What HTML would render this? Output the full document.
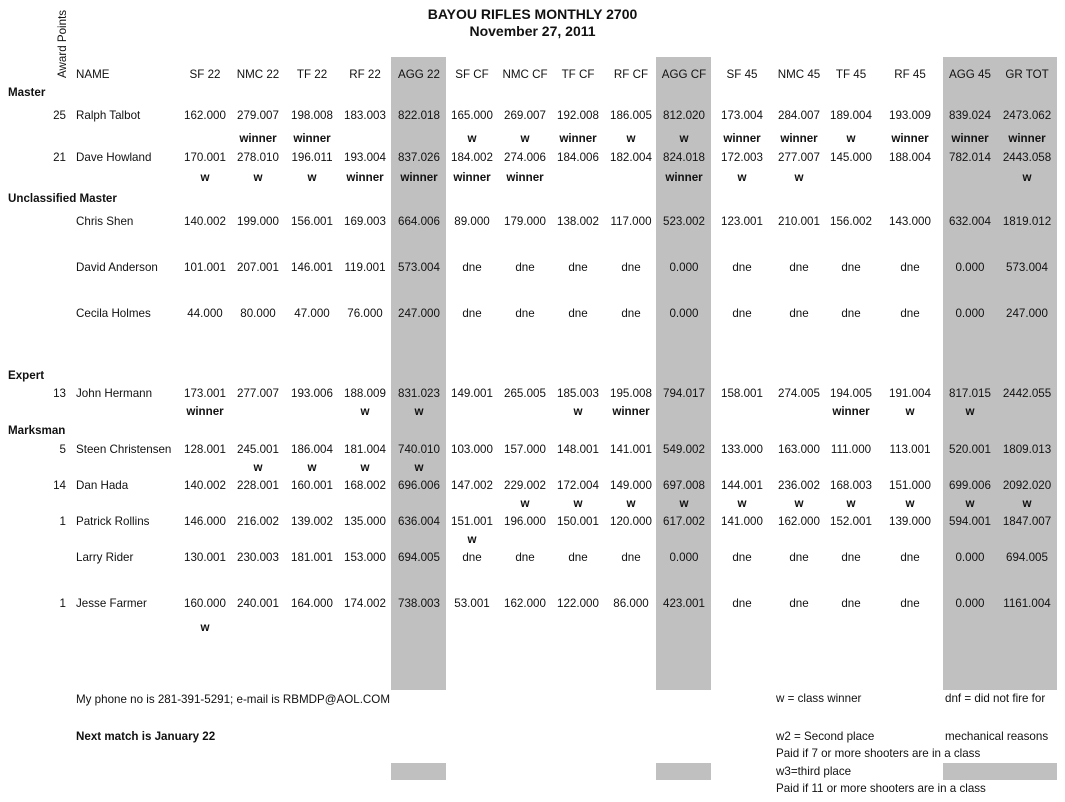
<!DOCTYPE html>
<html><head><meta charset="utf-8"><style>
body{margin:0;width:1065px;height:802px;background:#fff;position:relative;overflow:hidden;font-family:"Liberation Sans",sans-serif;font-size:11.6px;color:#111}
.g{position:absolute;background:#c0c0c0}
.r{position:absolute;left:0;width:1065px;height:14px}
.r span{position:absolute;top:0;width:64px;margin-left:-32px;text-align:center;white-space:nowrap;line-height:14px}
.b{font-weight:bold}
.c1{left:205px}.c2{left:258px}.c3{left:312px}.c4{left:365px}.c5{left:419px}.c6{left:472px}.c7{left:525px}.c8{left:578px}.c9{left:631px}.c10{left:684px}.c11{left:742px}.c12{left:799px}.c13{left:851px}.c14{left:910px}.c15{left:970px}.c16{left:1027px}
.r span.n{left:76px;margin-left:0;width:auto;text-align:left}
.r span.p{left:30px;margin-left:0;width:36px;text-align:right}
.r span.h{left:8px;margin-left:0;width:auto;text-align:left;font-weight:bold}
.t{position:absolute;white-space:nowrap;line-height:14px}
</style></head><body>
<div class="g" style="left:391px;top:57px;width:55px;height:633px"></div>
<div class="g" style="left:656px;top:57px;width:55px;height:633px"></div>
<div class="g" style="left:943px;top:57px;width:114px;height:633px"></div>
<div class="g" style="left:391px;top:763px;width:55px;height:17px"></div>
<div class="g" style="left:656px;top:763px;width:55px;height:17px"></div>
<div class="g" style="left:943px;top:763px;width:114px;height:17px"></div>
<div class="t b" style="left:0;width:1065px;text-align:center;top:6px;font-size:14px;line-height:17px">BAYOU RIFLES MONTHLY 2700<br>November 27, 2011</div>
<div class="t" style="left:56px;top:78px;transform:rotate(-90deg);transform-origin:0 0">Award Points</div>
<div class="r" style="top:68px"><span class="n">NAME</span><span class="c1">SF 22</span><span class="c2">NMC 22</span><span class="c3">TF 22</span><span class="c4">RF 22</span><span class="c5">AGG 22</span><span class="c6">SF CF</span><span class="c7">NMC CF</span><span class="c8">TF CF</span><span class="c9">RF CF</span><span class="c10">AGG CF</span><span class="c11">SF 45</span><span class="c12">NMC 45</span><span class="c13">TF 45</span><span class="c14">RF 45</span><span class="c15">AGG 45</span><span class="c16">GR TOT</span></div>
<div class="r" style="top:86px"><span class="h">Master</span></div>
<div class="r" style="top:109px"><span class="p">25</span><span class="n">Ralph Talbot</span><span class="c1">162.000</span><span class="c2">279.007</span><span class="c3">198.008</span><span class="c4">183.003</span><span class="c5">822.018</span><span class="c6">165.000</span><span class="c7">269.007</span><span class="c8">192.008</span><span class="c9">186.005</span><span class="c10">812.020</span><span class="c11">173.004</span><span class="c12">284.007</span><span class="c13">189.004</span><span class="c14">193.009</span><span class="c15">839.024</span><span class="c16">2473.062</span></div>
<div class="r b" style="top:132px"><span class="c2">winner</span><span class="c3">winner</span><span class="c6">w</span><span class="c7">w</span><span class="c8">winner</span><span class="c9">w</span><span class="c10">w</span><span class="c11">winner</span><span class="c12">winner</span><span class="c13">w</span><span class="c14">winner</span><span class="c15">winner</span><span class="c16">winner</span></div>
<div class="r" style="top:151px"><span class="p">21</span><span class="n">Dave Howland</span><span class="c1">170.001</span><span class="c2">278.010</span><span class="c3">196.011</span><span class="c4">193.004</span><span class="c5">837.026</span><span class="c6">184.002</span><span class="c7">274.006</span><span class="c8">184.006</span><span class="c9">182.004</span><span class="c10">824.018</span><span class="c11">172.003</span><span class="c12">277.007</span><span class="c13">145.000</span><span class="c14">188.004</span><span class="c15">782.014</span><span class="c16">2443.058</span></div>
<div class="r b" style="top:171px"><span class="c1">w</span><span class="c2">w</span><span class="c3">w</span><span class="c4">winner</span><span class="c5">winner</span><span class="c6">winner</span><span class="c7">winner</span><span class="c10">winner</span><span class="c11">w</span><span class="c12">w</span><span class="c16">w</span></div>
<div class="r" style="top:192px"><span class="h">Unclassified Master</span></div>
<div class="r" style="top:215px"><span class="n">Chris Shen</span><span class="c1">140.002</span><span class="c2">199.000</span><span class="c3">156.001</span><span class="c4">169.003</span><span class="c5">664.006</span><span class="c6">89.000</span><span class="c7">179.000</span><span class="c8">138.002</span><span class="c9">117.000</span><span class="c10">523.002</span><span class="c11">123.001</span><span class="c12">210.001</span><span class="c13">156.002</span><span class="c14">143.000</span><span class="c15">632.004</span><span class="c16">1819.012</span></div>
<div class="r" style="top:261px"><span class="n">David Anderson</span><span class="c1">101.001</span><span class="c2">207.001</span><span class="c3">146.001</span><span class="c4">119.001</span><span class="c5">573.004</span><span class="c6">dne</span><span class="c7">dne</span><span class="c8">dne</span><span class="c9">dne</span><span class="c10">0.000</span><span class="c11">dne</span><span class="c12">dne</span><span class="c13">dne</span><span class="c14">dne</span><span class="c15">0.000</span><span class="c16">573.004</span></div>
<div class="r" style="top:307px"><span class="n">Cecila Holmes</span><span class="c1">44.000</span><span class="c2">80.000</span><span class="c3">47.000</span><span class="c4">76.000</span><span class="c5">247.000</span><span class="c6">dne</span><span class="c7">dne</span><span class="c8">dne</span><span class="c9">dne</span><span class="c10">0.000</span><span class="c11">dne</span><span class="c12">dne</span><span class="c13">dne</span><span class="c14">dne</span><span class="c15">0.000</span><span class="c16">247.000</span></div>
<div class="r" style="top:369px"><span class="h">Expert</span></div>
<div class="r" style="top:387px"><span class="p">13</span><span class="n">John Hermann</span><span class="c1">173.001</span><span class="c2">277.007</span><span class="c3">193.006</span><span class="c4">188.009</span><span class="c5">831.023</span><span class="c6">149.001</span><span class="c7">265.005</span><span class="c8">185.003</span><span class="c9">195.008</span><span class="c10">794.017</span><span class="c11">158.001</span><span class="c12">274.005</span><span class="c13">194.005</span><span class="c14">191.004</span><span class="c15">817.015</span><span class="c16">2442.055</span></div>
<div class="r b" style="top:405px"><span class="c1">winner</span><span class="c4">w</span><span class="c5">w</span><span class="c8">w</span><span class="c9">winner</span><span class="c13">winner</span><span class="c14">w</span><span class="c15">w</span></div>
<div class="r" style="top:424px"><span class="h">Marksman</span></div>
<div class="r" style="top:443px"><span class="p">5</span><span class="n">Steen Christensen</span><span class="c1">128.001</span><span class="c2">245.001</span><span class="c3">186.004</span><span class="c4">181.004</span><span class="c5">740.010</span><span class="c6">103.000</span><span class="c7">157.000</span><span class="c8">148.001</span><span class="c9">141.001</span><span class="c10">549.002</span><span class="c11">133.000</span><span class="c12">163.000</span><span class="c13">111.000</span><span class="c14">113.001</span><span class="c15">520.001</span><span class="c16">1809.013</span></div>
<div class="r b" style="top:461px"><span class="c2">w</span><span class="c3">w</span><span class="c4">w</span><span class="c5">w</span></div>
<div class="r" style="top:479px"><span class="p">14</span><span class="n">Dan Hada</span><span class="c1">140.002</span><span class="c2">228.001</span><span class="c3">160.001</span><span class="c4">168.002</span><span class="c5">696.006</span><span class="c6">147.002</span><span class="c7">229.002</span><span class="c8">172.004</span><span class="c9">149.000</span><span class="c10">697.008</span><span class="c11">144.001</span><span class="c12">236.002</span><span class="c13">168.003</span><span class="c14">151.000</span><span class="c15">699.006</span><span class="c16">2092.020</span></div>
<div class="r b" style="top:497px"><span class="c7">w</span><span class="c8">w</span><span class="c9">w</span><span class="c10">w</span><span class="c11">w</span><span class="c12">w</span><span class="c13">w</span><span class="c14">w</span><span class="c15">w</span><span class="c16">w</span></div>
<div class="r" style="top:515px"><span class="p">1</span><span class="n">Patrick Rollins</span><span class="c1">146.000</span><span class="c2">216.002</span><span class="c3">139.002</span><span class="c4">135.000</span><span class="c5">636.004</span><span class="c6">151.001</span><span class="c7">196.000</span><span class="c8">150.001</span><span class="c9">120.000</span><span class="c10">617.002</span><span class="c11">141.000</span><span class="c12">162.000</span><span class="c13">152.001</span><span class="c14">139.000</span><span class="c15">594.001</span><span class="c16">1847.007</span></div>
<div class="r b" style="top:533px"><span class="c6">w</span></div>
<div class="r" style="top:551px"><span class="n">Larry Rider</span><span class="c1">130.001</span><span class="c2">230.003</span><span class="c3">181.001</span><span class="c4">153.000</span><span class="c5">694.005</span><span class="c6">dne</span><span class="c7">dne</span><span class="c8">dne</span><span class="c9">dne</span><span class="c10">0.000</span><span class="c11">dne</span><span class="c12">dne</span><span class="c13">dne</span><span class="c14">dne</span><span class="c15">0.000</span><span class="c16">694.005</span></div>
<div class="r" style="top:597px"><span class="p">1</span><span class="n">Jesse Farmer</span><span class="c1">160.000</span><span class="c2">240.001</span><span class="c3">164.000</span><span class="c4">174.002</span><span class="c5">738.003</span><span class="c6">53.001</span><span class="c7">162.000</span><span class="c8">122.000</span><span class="c9">86.000</span><span class="c10">423.001</span><span class="c11">dne</span><span class="c12">dne</span><span class="c13">dne</span><span class="c14">dne</span><span class="c15">0.000</span><span class="c16">1161.004</span></div>
<div class="r b" style="top:621px"><span class="c1">w</span></div>
<div class="t" style="left:76px;top:693px">My phone no is 281-391-5291; e-mail is RBMDP@AOL.COM</div>
<div class="t b" style="left:76px;top:730px">Next match is January 22</div>
<div class="t" style="left:776px;top:692px">w = class winner</div>
<div class="t" style="left:945px;top:692px">dnf = did not fire for</div>
<div class="t" style="left:776px;top:730px">w2 = Second place</div>
<div class="t" style="left:945px;top:730px">mechanical reasons</div>
<div class="t" style="left:776px;top:747px">Paid if 7 or more shooters are in a class</div>
<div class="t" style="left:776px;top:765px">w3=third place</div>
<div class="t" style="left:776px;top:782px">Paid if 11 or more shooters are in a class</div>
</body></html>
